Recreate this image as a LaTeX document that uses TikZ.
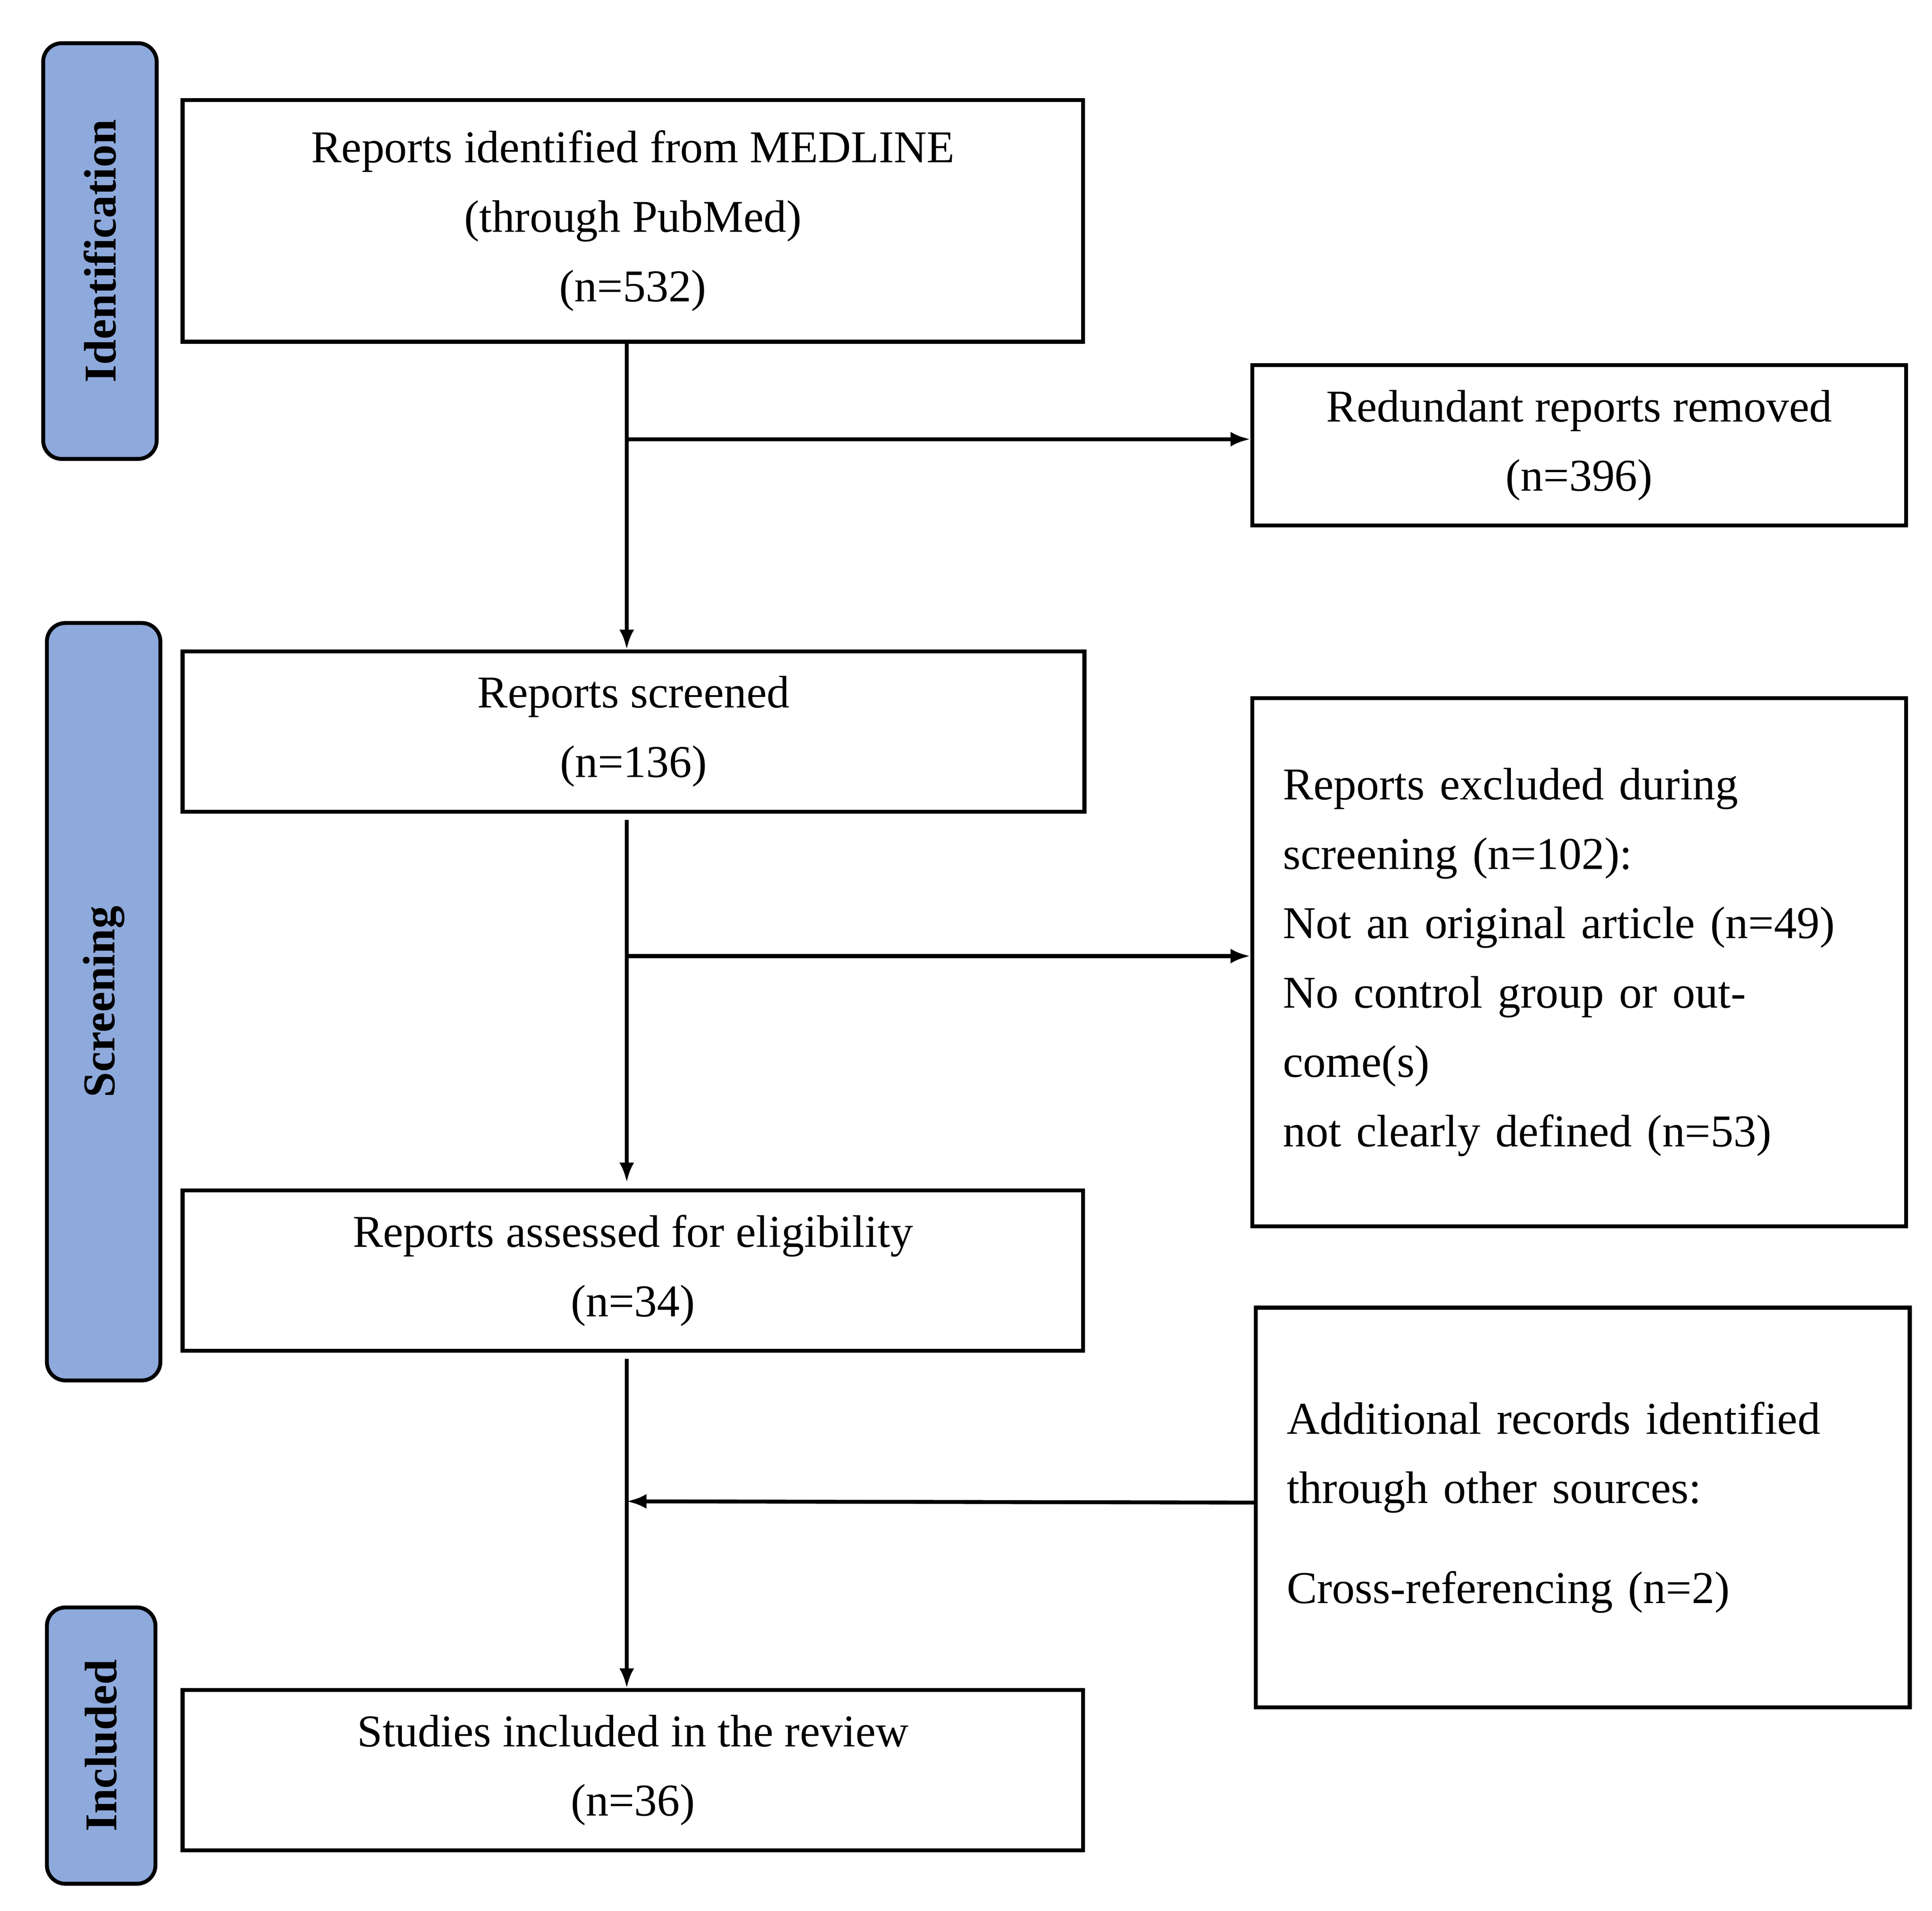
\documentclass[tikz,border=0pt]{standalone}
\usepackage{fontspec}
\setmainfont{Liberation Serif}
\usetikzlibrary{arrows.meta,positioning}
\tikzset{
  flowbox/.style={draw, line width=0.9pt, inner sep=0pt, align=center, font=\fontsize{10.5}{16}\selectfont},
  sidebox/.style={draw, line width=0.9pt, rounded corners=0.15cm, fill=stageblue, inner sep=0pt},
  sidetext/.style={rotate=90, font=\bfseries\fontsize{10.5}{13}\selectfont},
  flowarrow/.style={line width=0.9pt, -{Latex[length=0.16cm,width=0.12cm]}}
}
\definecolor{stageblue}{HTML}{8EA9DB}
\begin{document}
\begin{tikzpicture}
  \useasboundingbox (0,0) rectangle (15.66,-15.49);

  % stage labels
  \node[sidebox, minimum width=0.92cm, minimum height=3.37cm] (ident) at (0.81,-2.035) {};
  \node[sidetext] at (ident) {Identification};
  \node[sidebox, minimum width=0.92cm, minimum height=6.14cm] (screen) at (0.84,-8.12) {};
  \node[sidetext] at (screen) {Screening};
  \node[sidebox, minimum width=0.88cm, minimum height=2.24cm] (incl) at (0.82,-14.15) {};
  \node[sidetext] at (incl) {Included};

  % main column
  \node[flowbox, minimum width=7.3cm, minimum height=1.96cm] (medline) at (5.13,-1.79)
    {Reports identified from MEDLINE\\(through PubMed)\\(n=532)};
  \node[flowbox, minimum width=7.31cm, minimum height=1.3cm] (screened) at (5.135,-5.93)
    {Reports screened\\(n=136)};
  \node[flowbox, minimum width=7.3cm, minimum height=1.3cm] (assessed) at (5.13,-10.30)
    {Reports assessed for eligibility\\(n=34)};
  \node[flowbox, minimum width=7.3cm, minimum height=1.3cm] (studies) at (5.13,-14.35)
    {Studies included in the review\\(n=36)};

  % right column
  \node[flowbox, minimum width=5.3cm, minimum height=1.3cm] (redundant) at (12.80,-3.61)
    {Redundant reports removed\\(n=396)};
  \node[flowbox, minimum width=5.3cm, minimum height=4.28cm, align=left, text width=4.8cm] (excluded) at (12.80,-7.80)
    {Reports excluded during\\screening (n=102):\\Not an original article (n=49)\\No control group or outcome(s)\\not clearly defined (n=53)};
  \node[flowbox, minimum width=5.3cm, minimum height=3.24cm, align=left, text width=4.8cm] (additional) at (12.83,-12.22)
    {Additional records identified\\through other sources:\\[0.25cm]Cross-referencing (n=2)};

  % connectors
  \coordinate (split1) at (5.08,-3.56);
  \coordinate (split2) at (5.08,-7.75);
  \coordinate (join3) at (5.08,-12.17);
  \draw[flowarrow] (medline.south -| split1) -- (screened.north -| split1);
  \draw[flowarrow] (split1) -- (redundant.west |- split1);
  \draw[flowarrow] ([yshift=-0.05cm]screened.south -| split2) -- ([yshift=0.05cm]assessed.north -| split2);
  \draw[flowarrow] (split2) -- (excluded.west |- split2);
  \draw[flowarrow] ([yshift=-0.05cm]assessed.south -| join3) -- (studies.north -| join3);
  \draw[flowarrow] (additional.west |- 0,-12.18) -- (join3);
\end{tikzpicture}
\end{document}
